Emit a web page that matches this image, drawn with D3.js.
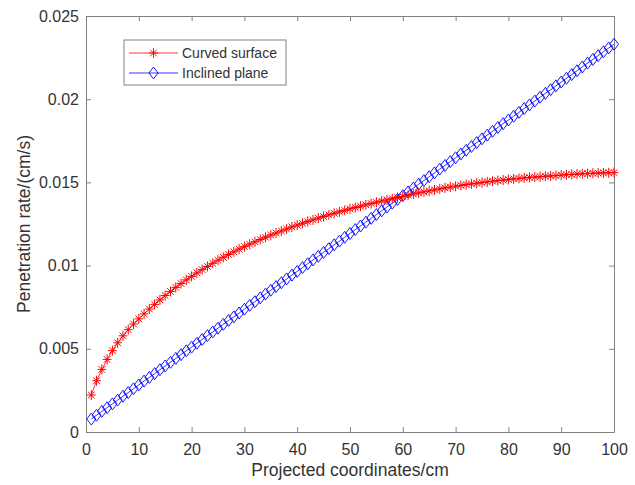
<!DOCTYPE html>
<html>
<head>
<meta charset="utf-8">
<script src="https://cdn.jsdelivr.net/npm/d3@7"></script>
<style>
  body { margin: 0; background: #fff; }
  svg { font-family: "Liberation Sans", Arial, sans-serif; }
</style>
</head>
<body>
<div id="chart"></div>
<script>
// projected coordinate (cm) of each sample
const xs = [1,2,3,4,5,6,7,8,9,10,11,12,13,14,15,16,17,18,19,20,
  21,22,23,24,25,26,27,28,29,30,31,32,33,34,35,36,37,38,39,40,
  41,42,43,44,45,46,47,48,49,50,51,52,53,54,55,56,57,58,59,60,
  61,62,63,64,65,66,67,68,69,70,71,72,73,74,75,76,77,78,79,80,
  81,82,83,84,85,86,87,88,89,90,91,92,93,94,95,96,97,98,99,100];

// penetration rate, curved surface
const curved = [0.00222,0.00308,0.00376,0.00436,0.00489,0.00536,0.00578,0.00615,0.00649,0.00680,
  0.00710,0.00739,0.00767,0.00794,0.00820,0.00845,0.00869,0.00892,0.00914,0.00935,
  0.00956,0.00976,0.00995,0.01014,0.01032,0.01050,0.01067,0.01083,0.01099,0.01114,
  0.01129,0.01143,0.01157,0.01170,0.01183,0.01196,0.01208,0.01220,0.01232,0.01243,
  0.01254,0.01265,0.01275,0.01285,0.01295,0.01305,0.01314,0.01323,0.01332,0.01341,
  0.01349,0.01357,0.01365,0.01373,0.01381,0.01388,0.01395,0.01402,0.01409,0.01416,
  0.01423,0.01430,0.01437,0.01443,0.01449,0.01455,0.01461,0.01467,0.01472,0.01477,
  0.01482,0.01487,0.01491,0.01495,0.01499,0.01503,0.01507,0.01511,0.01514,0.01517,
  0.01521,0.01524,0.01527,0.01530,0.01532,0.01534,0.01537,0.01539,0.01541,0.01544,
  0.01546,0.01548,0.01550,0.01552,0.01553,0.01555,0.01556,0.01557,0.01558,0.01559];

// penetration rate, inclined plane
const inclined = [0.00078,0.00101,0.00124,0.00146,0.00169,0.00192,0.00215,0.00237,0.00260,0.00283,
  0.00306,0.00328,0.00351,0.00374,0.00397,0.00419,0.00442,0.00465,0.00488,0.00510,
  0.00533,0.00556,0.00579,0.00601,0.00624,0.00647,0.00670,0.00692,0.00715,0.00738,
  0.00761,0.00783,0.00806,0.00829,0.00852,0.00874,0.00897,0.00920,0.00943,0.00965,
  0.00988,0.01011,0.01034,0.01056,0.01079,0.01102,0.01125,0.01147,0.01170,0.01193,
  0.01216,0.01238,0.01261,0.01284,0.01307,0.01329,0.01352,0.01375,0.01398,0.01420,
  0.01443,0.01466,0.01489,0.01511,0.01534,0.01557,0.01580,0.01602,0.01625,0.01648,
  0.01671,0.01693,0.01716,0.01739,0.01762,0.01784,0.01807,0.01830,0.01853,0.01875,
  0.01898,0.01921,0.01944,0.01966,0.01989,0.02012,0.02035,0.02057,0.02080,0.02103,
  0.02126,0.02148,0.02171,0.02194,0.02217,0.02239,0.02262,0.02285,0.02308,0.02330];

const xTicks = [0,10,20,30,40,50,60,70,80,90,100];
const yTicks = [0,0.005,0.01,0.015,0.02,0.025];
const seriesNames = ["Curved surface", "Inclined plane"];

const W = 635, H = 485;
const margin = {top: 16, right: 21, bottom: 53, left: 86};
const width = W - margin.left - margin.right,
      height = H - margin.top - margin.bottom;

const axisColor = "#808080", textColor = "#333";

const svg = d3.select("#chart").append("svg")
  .attr("width", W).attr("height", H);

const g = svg.append("g")
  .attr("transform", `translate(${margin.left},${margin.top})`);

const x = d3.scaleLinear().domain([0, 100]).range([0, width]);
const y = d3.scaleLinear().domain([0, 0.025]).range([height, 0]);

// axes (ticks point inward, box on)
function styleAxis(sel) {
  sel.select(".domain").attr("stroke", axisColor);
  sel.selectAll(".tick line").attr("stroke", axisColor);
  sel.selectAll(".tick text").attr("fill", textColor).style("font-size", "16px");
}

g.append("g")
  .attr("transform", `translate(0,${height})`)
  .call(d3.axisBottom(x).tickValues(xTicks).tickSizeInner(-5).tickSizeOuter(0).tickPadding(12))
  .call(styleAxis);

g.append("g")
  .call(d3.axisLeft(y).tickValues(yTicks).tickFormat(d => String(+d.toFixed(3)))
    .tickSizeInner(-5).tickSizeOuter(0).tickPadding(7))
  .call(styleAxis);

g.append("g")
  .call(d3.axisTop(x).tickValues(xTicks).tickFormat("").tickSizeInner(-5).tickSizeOuter(0))
  .call(styleAxis);

g.append("g")
  .attr("transform", `translate(${width},0)`)
  .call(d3.axisRight(y).tickValues(yTicks).tickFormat("").tickSizeInner(-5).tickSizeOuter(0))
  .call(styleAxis);

// axis titles
svg.append("text")
  .attr("x", margin.left + width / 2).attr("y", 476)
  .attr("text-anchor", "middle").attr("fill", textColor)
  .style("font-size", "17.5px")
  .text("Projected coordinates/cm");

svg.append("text")
  .attr("transform", `translate(30,${margin.top + height / 2}) rotate(-90)`)
  .attr("text-anchor", "middle").attr("fill", textColor)
  .style("font-size", "17.5px")
  .text("Penetration rate/(cm/s)");

// marker shapes
const starPath = "M0,-5V5M-4.3,0H4.3M-3.3,-3.3L3.3,3.3M-3.3,3.3L3.3,-3.3";
const diamondPath = "M0,-6L4.5,0L0,6L-4.5,0Z";

const line = d3.line().x((d, i) => x(xs[i])).y(d => y(d));

// inclined plane
g.append("path").datum(inclined)
  .attr("d", line).attr("fill", "none").attr("stroke", "#0000ff").attr("stroke-width", 0.8);
g.selectAll(".dia").data(inclined).join("path")
  .attr("class", "dia")
  .attr("transform", (d, i) => `translate(${x(xs[i])},${y(d)})`)
  .attr("d", diamondPath)
  .attr("fill", "none").attr("stroke", "#0000ff").attr("stroke-width", 0.9);

// curved surface
g.append("path").datum(curved)
  .attr("d", line).attr("fill", "none").attr("stroke", "#ff0000").attr("stroke-width", 0.8);
g.selectAll(".star").data(curved).join("path")
  .attr("class", "star")
  .attr("transform", (d, i) => `translate(${x(xs[i])},${y(d)})`)
  .attr("d", starPath)
  .attr("fill", "none").attr("stroke", "#ff0000").attr("stroke-width", 1);

// legend
const lg = svg.append("g").attr("transform", "translate(124,40)");
lg.append("rect").attr("width", 162).attr("height", 45)
  .attr("fill", "#fff").attr("stroke", axisColor);
const legendItems = [
  {name: seriesNames[0], color: "#ff0000", shape: starPath},
  {name: seriesNames[1], color: "#0000ff", shape: diamondPath}
];
legendItems.forEach((it, i) => {
  const yy = 13 + i * 20;
  lg.append("line").attr("x1", 5).attr("x2", 54).attr("y1", yy).attr("y2", yy)
    .attr("stroke", it.color).attr("stroke-width", 0.8);
  lg.append("path").attr("d", it.shape)
    .attr("transform", `translate(29.5,${yy})`)
    .attr("fill", "none").attr("stroke", it.color).attr("stroke-width", 0.9);
  lg.append("text").attr("x", 58).attr("y", yy).attr("dy", "0.35em")
    .attr("fill", textColor).style("font-size", "14px").text(it.name);
});
</script>
</body>
</html>
